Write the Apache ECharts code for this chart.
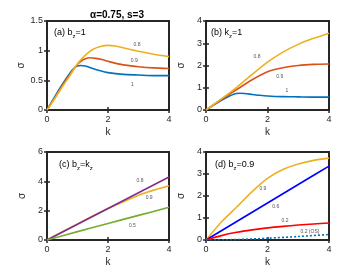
<!DOCTYPE html>
<html><head><meta charset="utf-8">
<script src="https://cdn.jsdelivr.net/npm/echarts@6/dist/echarts.min.js"></script>
<style>html,body{margin:0;padding:0;background:#fff}#c{width:362px;height:276px}</style>
</head><body><div id="c"></div>
<script>
// ---- data ----
const titleText = 'α=0.75, s=3';
// panel (a) b_z = 1
const aK_blue = [0,0.25,0.5,0.75,0.9,1.0,1.1,1.25,1.5,1.75,2,2.5,3,3.5,4];
const aS_blue = [0,0.22,0.43,0.62,0.71,0.74,0.75,0.74,0.70,0.66,0.63,0.60,0.59,0.58,0.58];
const aK_orange = [0,0.25,0.5,0.75,1.0,1.2,1.4,1.6,1.8,2,2.5,3,3.5,4];
const aS_orange = [0,0.2,0.41,0.6,0.77,0.85,0.88,0.87,0.85,0.82,0.76,0.73,0.71,0.70];
const aK_yellow = [0,0.25,0.5,0.75,1.0,1.25,1.5,1.75,2,2.25,2.5,3,3.5,4];
const aS_yellow = [0,0.19,0.39,0.58,0.78,0.92,1.02,1.07,1.09,1.08,1.05,0.99,0.94,0.90];
const aLabels = [[2.95,1.1,'0.8'],[2.86,0.83,'0.9'],[2.8,0.42,'1']];
// panel (b) k_z = 1
const bK_blue = [0,0.25,0.5,0.75,0.9,1.0,1.1,1.25,1.5,1.75,2,2.5,3,3.5,4];
const bS_blue = [0,0.22,0.43,0.62,0.71,0.74,0.75,0.74,0.70,0.66,0.63,0.60,0.59,0.58,0.58];
const bK_orange = [0,0.5,1,1.5,2,2.5,3,3.5,4];
const bS_orange = [0,0.48,0.92,1.36,1.72,1.9,2.0,2.05,2.07];
const bK_yellow = [0,0.5,1,1.5,2,2.5,3,3.5,4];
const bS_yellow = [0,0.5,1.02,1.6,2.15,2.6,2.95,3.22,3.45];
const bLabels = [[1.66,2.4,'0.8'],[2.4,1.5,'0.9'],[2.63,0.87,'1']];
// panel (c) b_z = k_z
const cK_yellow = [0,1,2,2.5,3,3.5,4];
const cS_yellow = [0,1.1,2.15,2.6,3.05,3.4,3.7];
const cK_purple = [0,4];
const cS_purple = [0,4.3];
const cK_green = [0,1,2,3,4];
const cS_green = [0,0.57,1.13,1.68,2.23];
const cLabels = [[3.05,4.04,'0.8'],[3.35,2.86,'0.9'],[2.8,1.0,'0.5']];
// panel (d) b_z = 0.9
const dK_yellow = [0,0.5,1,1.5,2,2.5,3,3.5,4];
const dS_yellow = [0,0.82,1.5,2.2,2.8,3.2,3.45,3.62,3.72];
const dK_blue = [0,1,2,3,4];
const dS_blue = [0,0.84,1.68,2.52,3.36];
const dK_red = [0,0.5,1,1.5,2,2.5,3,3.5,4];
const dS_red = [0,0.2,0.35,0.46,0.55,0.62,0.68,0.73,0.77];
const dK_os = [0,1,2,3,4];
const dS_os = [0,0.02,0.08,0.16,0.25];
const dLabels = [[1.85,2.33,'0.9'],[2.27,1.5,'0.6'],[2.57,0.86,'0.2'],[3.38,0.36,'0.2 (OS)']];
const xTicks = {min:0,max:4,interval:2};
const yTicks = [{min:0,max:1.5,interval:0.5},{min:0,max:4,interval:1},{min:0,max:6,interval:2},{min:0,max:4,interval:1}];

// ---- layout ----
const FONT = 'Liberation Sans, Arial, sans-serif';
const grids = [
  {left:47,top:21,width:122,height:89},
  {left:206,top:21,width:123,height:89},
  {left:47,top:152,width:122,height:88},
  {left:206,top:152,width:123,height:88}
];
const zip = (a,b)=>a.map((v,i)=>[v,b[i]]);
const C = {blue:'#0072BD',orange:'#D95319',yellow:'#EDB120',purple:'#7E2F8E',green:'#77AC30'};

const xAxis=[], yAxis=[];
grids.forEach((g,i)=>{
  xAxis.push({gridIndex:i,type:'value',min:xTicks.min,max:xTicks.max,interval:xTicks.interval,
    name:'k',nameLocation:'middle',nameGap:17,nameTextStyle:{fontFamily:FONT,fontSize:10,color:'#262626'},
    axisLine:{show:false},axisTick:{show:true,inside:true,length:3,lineStyle:{color:'#262626',width:1.5}},
    splitLine:{show:false},axisLabel:{fontFamily:FONT,fontSize:9,color:'#262626',margin:5}});
  yAxis.push({gridIndex:i,type:'value',min:yTicks[i].min,max:yTicks[i].max,interval:yTicks[i].interval,
    name:'σ',nameLocation:'middle',nameGap:20,nameRotate:90,nameTextStyle:{fontFamily:FONT,fontSize:10,color:'#262626'},
    axisLine:{show:false},axisTick:{show:true,inside:true,length:3,lineStyle:{color:'#262626',width:1.5}},
    splitLine:{show:false},axisLabel:{fontFamily:FONT,fontSize:9,color:'#262626',margin:4}});
});
// mirror axes (top / right ticks)
grids.forEach((g,i)=>{
  xAxis.push({gridIndex:i,type:'value',position:'top',min:xTicks.min,max:xTicks.max,interval:xTicks.interval,
    axisLine:{show:false},axisTick:{show:true,inside:true,length:3,lineStyle:{color:'#262626',width:1.5}},
    splitLine:{show:false},axisLabel:{show:false}});
  yAxis.push({gridIndex:i,type:'value',position:'right',min:yTicks[i].min,max:yTicks[i].max,interval:yTicks[i].interval,
    axisLine:{show:false},axisTick:{show:true,inside:true,length:3,lineStyle:{color:'#262626',width:1.5}},
    splitLine:{show:false},axisLabel:{show:false}});
});

const series=[];
function line(i,k,s,color,opts){
  series.push(Object.assign({type:'line',xAxisIndex:i,yAxisIndex:i,data:zip(k,s),smooth:0.25,symbol:'none',
    lineStyle:{color:color,width:1.6},z:3,animation:false},opts||{}));
}
function labels(i,arr){
  series.push({type:'scatter',xAxisIndex:i,yAxisIndex:i,symbolSize:0,data:arr.map(a=>({value:[a[0],a[1]],name:a[2]})),
    label:{show:true,position:'inside',formatter:p=>p.name,fontFamily:FONT,fontSize:5,color:'#262626'},animation:false,z:5});
}
line(0,aK_blue,aS_blue,C.blue);
line(0,aK_orange,aS_orange,C.orange);
line(0,aK_yellow,aS_yellow,C.yellow);
labels(0,aLabels);
line(1,bK_blue,bS_blue,C.blue);
line(1,bK_orange,bS_orange,C.orange);
line(1,bK_yellow,bS_yellow,C.yellow);
labels(1,bLabels);
line(2,cK_yellow,cS_yellow,C.yellow);
line(2,cK_purple,cS_purple,C.purple);
line(2,cK_green,cS_green,C.green);
labels(2,cLabels);
line(3,dK_yellow,dS_yellow,C.yellow);
line(3,dK_blue,dS_blue,'#0000FF');
line(3,dK_red,dS_red,'#FF0000');
line(3,dK_os,dS_os,C.blue,{lineStyle:{color:C.blue,width:1.6,type:[2,2]}});
labels(3,dLabels);

const rich = {t:{fontFamily:FONT,fontSize:9,color:'#262626',lineHeight:11},
  s:{fontFamily:FONT,fontSize:6,color:'#262626',lineHeight:11,verticalAlign:'bottom',padding:[0,0,-1,0]}};
function pLabel(x,y,parts){
  return {type:'text',left:x,top:y,z:10,style:{rich:rich,text:parts}};
}
const chart = echarts.init(document.getElementById('c'),null,{renderer:'canvas'});
chart.setOption({
  animation:false,
  backgroundColor:'#fff',
  title:{text:titleText,left:112,top:5,textAlign:'center',textStyle:{fontFamily:FONT,fontSize:10,fontWeight:'bold',color:'#000'}},
  grid:grids.map(g=>Object.assign({show:true,borderWidth:2,borderColor:'#262626',backgroundColor:'transparent'},g)),
  xAxis:xAxis,yAxis:yAxis,series:series,
  graphic:[
    pLabel(54,28,'{t|(a) b}{s|z}{t|=1}'),
    pLabel(211,28,'{t|(b) k}{s|z}{t|=1}'),
    pLabel(59,160,'{t|(c) b}{s|z}{t|=k}{s|z}'),
    pLabel(215,160,'{t|(d) b}{s|z}{t|=0.9}')
  ]
});
</script></body></html>
